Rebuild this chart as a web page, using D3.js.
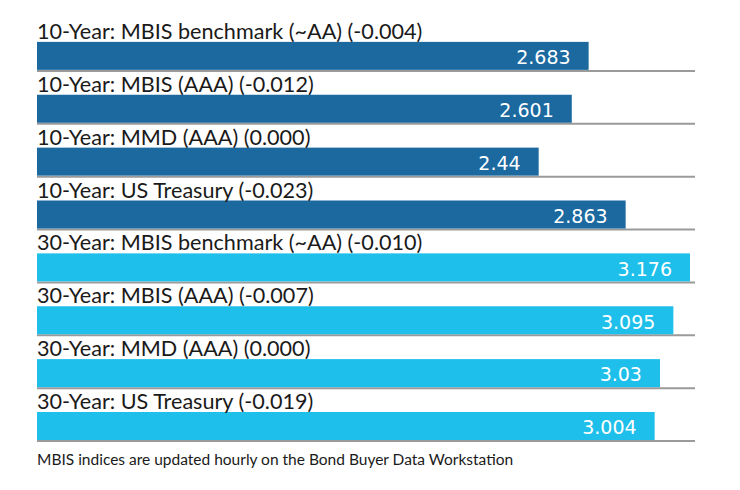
<!DOCTYPE html>
<html><head><meta charset="utf-8">
<script src="https://cdn.jsdelivr.net/npm/d3@7"></script>
<style>body{margin:0;background:#fff}</style>
</head><body>
<svg id="c" width="740" height="490"></svg>
<script>
const labels = [
  "10-Year: MBIS benchmark (~AA) (-0.004)",
  "10-Year: MBIS (AAA) (-0.012)",
  "10-Year: MMD (AAA) (0.000)",
  "10-Year: US Treasury (-0.023)",
  "30-Year: MBIS benchmark (~AA) (-0.010)",
  "30-Year: MBIS (AAA) (-0.007)",
  "30-Year: MMD (AAA) (0.000)",
  "30-Year: US Treasury (-0.019)"
];
const values = [2.683, 2.601, 2.44, 2.863, 3.176, 3.095, 3.03, 3.004];
const valueText = ["2.683", "2.601", "2.44", "2.863", "3.176", "3.095", "3.03", "3.004"];
const groups = ["10", "10", "10", "10", "30", "30", "30", "30"];
const footnote = "MBIS indices are updated hourly on the Bond Buyer Data Workstation";

const svg = d3.select("#c");
const x = d3.scaleLinear().domain([0, d3.max(values)]).range([37, 690]);
const y = d3.scaleBand().domain(d3.range(labels.length)).range([17, 440]).paddingInner(0).paddingOuter(0);
const color = d3.scaleOrdinal().domain(["10", "30"]).range(["#1b699f", "#1ebfea"]);
const barH = 28;

const row = svg.selectAll("g.row").data(values).join("g").attr("class", "row")
  .attr("transform", (d, i) => `translate(0,${y(i)})`);

const bw = y.bandwidth();
row.append("line")
  .attr("x1", 37).attr("x2", 695)
  .attr("y1", bw + 1).attr("y2", bw + 1)
  .attr("stroke", "#9a9a9a").attr("stroke-width", 2);

row.append("rect")
  .attr("x", x(0)).attr("y", bw - barH)
  .attr("width", d => x(d) - x(0)).attr("height", barH)
  .attr("fill", (d, i) => color(groups[i]));

row.append("text")
  .attr("x", 37).attr("y", bw - barH - 3)
  .attr("font-family", "Lato, sans-serif").attr("font-size", 21.6)
  .attr("fill", "#1a1a1a")
  .text((d, i) => labels[i]);

row.append("text")
  .attr("x", d => x(d) - 18).attr("y", bw - barH / 2 + 1.5)
  .attr("dy", "0.36em").attr("text-anchor", "end")
  .attr("font-family", "DejaVu Sans, sans-serif").attr("font-size", 19)
  .attr("fill", "#fff")
  .text((d, i) => valueText[i]);

svg.append("text")
  .attr("x", 37).attr("y", 465)
  .attr("font-family", "Lato, sans-serif").attr("font-size", 15.5)
  .attr("fill", "#1a1a1a")
  .text(footnote);
</script>
</body></html>
